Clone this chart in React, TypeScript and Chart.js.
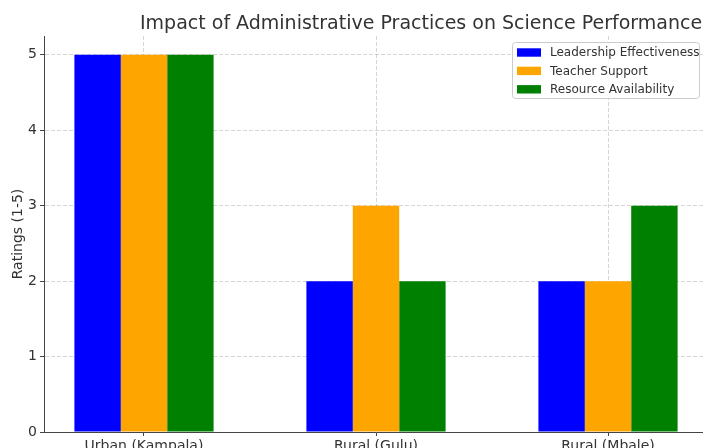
import React, { useEffect, useRef } from 'react';
import { Chart, registerables } from 'chart.js';

Chart.register(...registerables);

const categories = ['Urban (Kampala)', 'Rural (Gulu)', 'Rural (Mbale)'];
const seriesNames = ['Leadership Effectiveness', 'Teacher Support', 'Resource Availability'];
const leadership = [5, 2, 2];
const teacherSupport = [5, 3, 2];
const resourceAvailability = [5, 2, 3];
const seriesColors = ['#0000ff', '#ffa500', '#008000'];
const yTicks = [0, 1, 2, 3, 4, 5];
const titleText = 'Impact of Administrative Practices on Science Performance';
const yAxisTitle = 'Ratings (1-5)';

const FONT = 'DejaVu Sans';
const TEXT = '#333333';
const AXIS = '#444444';
const GRID = 'rgba(150,150,150,0.5)';

const CANVAS_W = 712;
const CANVAS_H = 462;

const titlePlugin = {
  id: 'mplTitle',
  afterDraw(chart: any) {
    const ctx = chart.ctx;
    ctx.save();
    ctx.font = `19px "${FONT}"`;
    ctx.fillStyle = TEXT;
    ctx.textAlign = 'left';
    ctx.textBaseline = 'alphabetic';
    ctx.fillText(titleText, 140, 29);
    ctx.restore();
  },
};

const legendPlugin = {
  id: 'mplLegend',
  afterDraw(chart: any) {
    const ctx = chart.ctx;
    const x = 512.5;
    const y = 42.5;
    const w = 187;
    const h = 56;
    ctx.save();
    ctx.beginPath();
    ctx.roundRect(x, y, w, h, 3);
    ctx.fillStyle = 'rgba(255,255,255,0.8)';
    ctx.fill();
    ctx.strokeStyle = '#cccccc';
    ctx.lineWidth = 1;
    ctx.stroke();
    ctx.font = `12px "${FONT}"`;
    ctx.textAlign = 'left';
    ctx.textBaseline = 'middle';
    chart.data.datasets.forEach((ds: any, i: number) => {
      const rowY = 52.5 + i * 18.4;
      ctx.fillStyle = ds.backgroundColor;
      ctx.fillRect(517, rowY - 4.2, 24, 8.4);
      ctx.fillStyle = TEXT;
      ctx.fillText(ds.label, 550, rowY + 0.5);
    });
    ctx.restore();
  },
};

export default function App() {
  const canvasRef = useRef<HTMLCanvasElement | null>(null);

  useEffect(() => {
    const canvas = canvasRef.current;
    if (!canvas) return;
    const series = [leadership, teacherSupport, resourceAvailability];
    const chart = new Chart(canvas, {
      type: 'bar',
      data: {
        datasets: series.map((vals, s) => ({
          label: seriesNames[s],
          data: vals.map((v, i) => ({ x: i, y: v })),
          backgroundColor: seriesColors[s],
          borderWidth: 0,
          categoryPercentage: 0.6,
          barPercentage: 1,
        })),
      },
      options: {
        responsive: false,
        animation: false,
        devicePixelRatio: 1,
        layout: { padding: { left: 0, top: 36, right: CANVAS_W - 708, bottom: 0 } },
        plugins: {
          legend: { display: false },
          title: { display: false },
          tooltip: { enabled: false },
        },
        scales: {
          x: {
            type: 'linear',
            min: -0.431,
            max: 2.431,
            offset: false,
            z: 1,
            afterBuildTicks: (scale: any) => {
              scale.ticks = categories.map((_, i) => ({ value: i }));
            },
            afterFit: (scale: any) => {
              scale.height = CANVAS_H - 432;
            },
            grid: {
              offset: false,
              color: GRID,
              lineWidth: 0.8,
              tickColor: AXIS,
              tickLength: 4,
              tickWidth: 1,
              drawTicks: true,
            },
            border: { display: true, color: AXIS, width: 1, dash: [4, 2] },
            ticks: {
              autoSkip: false,
              maxRotation: 0,
              padding: 2,
              color: TEXT,
              font: { family: FONT, size: 14 },
              callback: (_v: any, index: number) => categories[index],
            },
          },
          y: {
            type: 'linear',
            min: 0,
            max: 5.25,
            z: 1,
            afterBuildTicks: (scale: any) => {
              scale.ticks = yTicks.map((v) => ({ value: v }));
            },
            afterFit: (scale: any) => {
              scale.width = 44;
            },
            grid: {
              color: GRID,
              lineWidth: 0.8,
              tickColor: AXIS,
              tickLength: 4,
              tickWidth: 1,
            },
            border: { display: true, color: AXIS, width: 1, dash: [4, 2] },
            ticks: {
              padding: 3,
              color: TEXT,
              font: { family: FONT, size: 14 },
            },
            title: {
              display: true,
              text: yAxisTitle,
              color: TEXT,
              font: { family: FONT, size: 14 },
              padding: { top: 10, bottom: 0 },
            },
          },
        },
      } as any,
      plugins: [titlePlugin, legendPlugin],
    });
    return () => chart.destroy();
  }, []);

  return (
    <div
      style={{
        position: 'absolute',
        left: 0,
        top: 0,
        width: 703,
        height: 448,
        overflow: 'hidden',
        background: '#ffffff',
      }}
    >
      <canvas ref={canvasRef} width={CANVAS_W} height={CANVAS_H} style={{ display: 'block' }} />
    </div>
  );
}
